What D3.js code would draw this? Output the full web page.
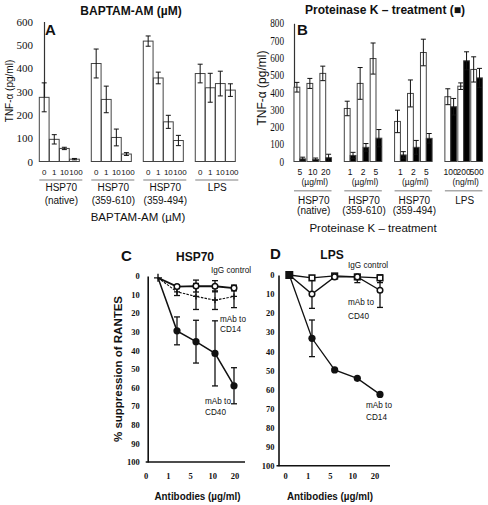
<!DOCTYPE html>
<html><head><meta charset="utf-8">
<script src="https://cdn.jsdelivr.net/npm/d3@7"></script>
<style>body{margin:0;background:#fff} svg{display:block}</style>
</head><body><svg id="c" width="488" height="505"></svg>
<script>
// ---------- DATA ----------
const groups = ["native", "359-610", "359-494", "LPS"];
const groupLine1 = ["HSP70", "HSP70", "HSP70", "LPS"];
const groupLine2 = ["(native)", "(359-610)", "(359-494)", ""];

// Panel A: BAPTAM-AM doses (µM)
const dosesA = ["0", "1", "10", "100"];
const tnfA_native = [275, 95, 56, 10];
const errA_native = [62, 20, 5, 3];
const tnfA_610 = [420, 266, 103, 32];
const errA_610 = [62, 57, 36, 6];
const tnfA_494 = [516, 358, 170, 90];
const errA_494 = [22, 25, 28, 22];
const tnfA_lps = [377, 316, 334, 306];
const errA_lps = [40, 62, 53, 27];
const ticksA = [0, 100, 200, 300, 400, 500, 600];

// Panel B: Proteinase K treatment
const concB_native = ["5", "10", "20"];
const concB_610 = ["1", "2", "5"];
const concB_494 = ["1", "2", "5"];
const concB_lps = ["100", "200", "500"];
const unitsB = ["(µg/ml)", "(µg/ml)", "(µg/ml)", "(ng/ml)"];
const untreatedB_native = [430, 452, 510];
const untreatedErrB_native = [28, 29, 42];
const untreatedB_610 = [307, 452, 596];
const untreatedErrB_610 = [42, 92, 90];
const untreatedB_494 = [232, 394, 631];
const untreatedErrB_494 = [65, 78, 77];
const untreatedB_lps = [375, 436, 533];
const untreatedErrB_lps = [46, 19, 73];
const treatedB_native = [15, 12, 22];
const treatedErrB_native = [10, 8, 20];
const treatedB_610 = [35, 82, 135];
const treatedErrB_610 = [18, 22, 50];
const treatedB_494 = [38, 82, 134];
const treatedErrB_494 = [19, 40, 28];
const treatedB_lps = [317, 583, 484];
const treatedErrB_lps = [48, 52, 55];
const ticksB = [0, 100, 200, 300, 400, 500, 600, 700, 800];

// Panels C & D: antibodies (µg/ml), % suppression of RANTES
const antibodyDoses = ["0", "1", "5", "10", "20"];
const ticksCD = [0, 10, 20, 30, 40, 50, 60, 70, 80, 90, 100];
const igG_C = [1, 5.7, 5.4, 5.5, 6.5];
const igGErr_C = [0, 1, 3.2, 3, 1.5];
const cd14_C = [1, 8.5, 11, 13, 11];
const cd14Err_C = [0, 2, 7, 5, 6];
const cd40_C = [1, 29.5, 35.3, 41.6, 59];
const cd40Err_C = [0, 7.5, 11.5, 17.5, 9.7];
const igG_D = [0, 1.5, 0.5, 1, 1.5];
const igGErr_D = [0, 1, 0.5, 3, 2.5];
const cd40_D = [0, 10, 1, 1, 8];
const cd40Err_D = [0, 7.5, 0, 0, 9];
const cd14_D = [0, 33.2, 49.8, 54.2, 62.6];
const cd14Err_D = [0, 9.6, 0, 0, 0];

// ---------- DRAW ----------
const svg = d3.select("#c");
const sans = "'Liberation Sans', Arial, sans-serif";
const serif = "'Liberation Serif', 'Times New Roman', serif";
svg.append("rect").attr("width", 488).attr("height", 505).attr("fill", "#fff");

function txt(g, x, y, s, o = {}) {
  const t = g.append("text").attr("x", x).attr("y", y).text(s)
    .attr("font-family", o.family || sans).attr("font-size", o.size || 10)
    .attr("font-weight", o.weight || "normal").attr("text-anchor", o.anchor || "start")
    .attr("fill", o.fill || "#111");
  if (o.rotate) t.attr("transform", `rotate(-90,${x},${y})`);
  if (o.len) t.attr("textLength", o.len).attr("lengthAdjust", "spacingAndGlyphs");
  return t;
}
function errBar(g, cx, y, v, e, cap, w) {
  if (!e) return;
  const top = y(v + e), bot = y(Math.max(y.domain()[0], v - e));
  g.append("line").attr("x1", cx).attr("x2", cx).attr("y1", top).attr("y2", bot).attr("stroke", "#111").attr("stroke-width", w || 1);
  [top, bot].forEach(yy => g.append("line").attr("x1", cx - cap / 2).attr("x2", cx + cap / 2).attr("y1", yy).attr("y2", yy).attr("stroke", "#111").attr("stroke-width", w || 1));
}

// ===== Panel A =====
const gA = svg.append("g");
const valsA = [tnfA_native, tnfA_610, tnfA_494, tnfA_lps];
const errsA = [errA_native, errA_610, errA_494, errA_lps];
const yA = d3.scaleLinear().domain([0, 600]).range([161.5, 21.5]);
const xA = d3.scaleBand().domain(groups).range([39.3, 235.3]).paddingInner(0.23);
const xAi = d3.scaleBand().domain(dosesA).range([0, xA.bandwidth()]).paddingInner(0.03);
gA.append("g").attr("transform", "translate(44,0)")
  .call(d3.axisLeft(yA).tickValues(ticksA).tickSize(0).tickPadding(11))
  .call(g => {
    g.select(".domain").attr("stroke", "#333").attr("stroke-width", 1.2);
    g.selectAll("text").attr("font-family", serif).attr("font-size", 11).attr("fill", "#111");
  });
groups.forEach((gr, gi) => {
  dosesA.forEach((d, di) => {
    const v = valsA[gi][di], x0 = xA(gr) + xAi(d);
    gA.append("rect").attr("x", x0).attr("y", yA(v)).attr("width", xAi.bandwidth()).attr("height", yA(0) - yA(v))
      .attr("fill", "#fff").attr("stroke", "#444").attr("stroke-width", 1);
    errBar(gA, x0 + xAi.bandwidth() / 2, yA, v, errsA[gi][di], 5);
    txt(gA, x0 + xAi.bandwidth() / 2 + (di === 3 ? 1.5 : 0), 175, d, { size: 8, anchor: "middle" });
  });
  gA.append("line").attr("x1", xA(gr)).attr("x2", xA(gr) + xA.bandwidth() + 3).attr("y1", 180).attr("y2", 180)
    .attr("stroke", "#aaa").attr("stroke-width", 1.5);
  const c = xA(gr) + xA.bandwidth() / 2 + 2;
  txt(gA, c, 190.5, groupLine1[gi], { size: 10, anchor: "middle" });
  txt(gA, c, 203.5, groupLine2[gi], { size: 10, anchor: "middle" });
});
txt(gA, 45, 35, "A", { size: 15, weight: "bold" });
txt(gA, 131, 15, "BAPTAM-AM (µM)", { size: 12, weight: "bold", anchor: "middle" });
txt(gA, 138, 221, "BAPTAM-AM (µM)", { size: 11.5, anchor: "middle" });
txt(gA, 12.5, 91, "TNF-α (pg/ml)", { size: 10, anchor: "middle", rotate: true });

// ===== Panel B =====
const gB = svg.append("g");
const concB = [concB_native, concB_610, concB_494, concB_lps];
const untB = [untreatedB_native, untreatedB_610, untreatedB_494, untreatedB_lps];
const untEB = [untreatedErrB_native, untreatedErrB_610, untreatedErrB_494, untreatedErrB_lps];
const trtB = [treatedB_native, treatedB_610, treatedB_494, treatedB_lps];
const trtEB = [treatedErrB_native, treatedErrB_610, treatedErrB_494, treatedErrB_lps];
const yB = d3.scaleLinear().domain([0, 800]).range([161.5, 23.3]);
const xB = d3.scaleBand().domain(groups).range([294, 482.4]).paddingInner(0.254);
const xBi = d3.scaleBand().domain([0, 1, 2]).range([0, xB.bandwidth()]).paddingInner(0.1);
const xBt = d3.scaleBand().domain(["untreated", "treated"]).range([0, xBi.bandwidth()]);
gB.append("g").attr("transform", "translate(294,0)")
  .call(d3.axisLeft(yB).tickValues(ticksB).tickSize(0).tickPadding(10))
  .call(g => {
    g.select(".domain").attr("stroke", "#333").attr("stroke-width", 1.2);
    g.selectAll("text").attr("font-family", serif).attr("font-size", 11.5).attr("fill", "#111")
      .attr("textLength", d => String(d).length * 4.6).attr("lengthAdjust", "spacingAndGlyphs");
  });
groups.forEach((gr, gi) => {
  concB[gi].forEach((cname, ci) => {
    const base = xB(gr) + xBi(ci);
    [["untreated", untB, untEB, "#fff"], ["treated", trtB, trtEB, "#000"]].forEach(([k, vals, errs, fill]) => {
      const v = vals[gi][ci], x0 = base + xBt(k);
      gB.append("rect").attr("x", x0).attr("y", yB(v)).attr("width", xBt.bandwidth()).attr("height", yB(0) - yB(v))
        .attr("fill", fill).attr("stroke", "#444").attr("stroke-width", 1);
      errBar(gB, x0 + xBt.bandwidth() / 2, yB, v, errs[gi][ci], 5);
    });
    txt(gB, base + xBi.bandwidth() / 2, 175, cname, { size: 8.5, anchor: "middle" });
  });
  const c = xB(gr) + xB.bandwidth() / 2;
  txt(gB, c + 2, 185, unitsB[gi], { size: 8.5, anchor: "middle" });
  gB.append("line").attr("x1", xB(gr)).attr("x2", xB(gr) + xB.bandwidth()).attr("y1", 190.7).attr("y2", 190.7)
    .attr("stroke", "#aaa").attr("stroke-width", 1.5);
  txt(gB, c + 1, 203.5, groupLine1[gi], { size: 10, anchor: "middle" });
  txt(gB, c + 1, 213.5, groupLine2[gi], { size: 10, anchor: "middle" });
});
txt(gB, 297, 35, "B", { size: 15, weight: "bold" });
txt(gB, 385, 14, "Proteinase K – treatment (■)", { size: 12, weight: "bold", anchor: "middle" });
txt(gB, 373, 231.5, "Proteinase K – treatment", { size: 11.5, anchor: "middle" });
txt(gB, 265.5, 88, "TNF-α (pg/ml)", { size: 12, anchor: "middle", rotate: true });

// ===== Panels C & D =====
function plusPath(cx, cy, s) { return `M${cx - s},${cy}H${cx + s}M${cx},${cy - s}V${cy + s}`; }

function linePanel(o) {
  const g = svg.append("g");
  const y = d3.scaleLinear().domain([0, 100]).range(o.yRange);
  const xd = d3.scalePoint().domain(antibodyDoses).range(o.xData);
  const xl = d3.scalePoint().domain(antibodyDoses).range(o.xLab);
  g.append("g").attr("transform", `translate(${o.axisX},0)`)
    .call(d3.axisLeft(y).tickValues(ticksCD).tickSize(0).tickPadding(o.pad))
    .call(a => {
      a.select(".domain").attr("stroke", "#111").attr("stroke-width", 1.6);
      a.selectAll("text").attr("font-family", serif).attr("font-weight", "bold").attr("font-size", 8.5).attr("fill", "#111");
    });
  g.append("line").attr("x1", o.axisX - 2).attr("x2", o.xEnd).attr("y1", y(100)).attr("y2", y(100))
    .attr("stroke", "#111").attr("stroke-width", 1.6);
  antibodyDoses.forEach(d => txt(g, xl(d), o.labY, d, { family: serif, weight: "bold", size: 8.5, anchor: "middle" }));
  const line = d3.line().x((d, i) => xd(antibodyDoses[i])).y(d => y(d));
  o.series.forEach(s => {
    g.append("path").attr("d", line(s.vals)).attr("fill", "none").attr("stroke", "#111")
      .attr("stroke-width", s.lw).attr("stroke-dasharray", s.dash || null);
    s.vals.forEach((v, i) => errBar(g, xd(antibodyDoses[i]), y, v, s.errs[i], 6, 1.3));
  });
  o.series.forEach(s => {
    s.vals.forEach((v, i) => {
      if (i === 0) return;
      const cx = xd(antibodyDoses[i]), cy = y(v);
      if (s.marker === "open") g.append("circle").attr("cx", cx).attr("cy", cy).attr("r", 2.8).attr("fill", "#fff").attr("stroke", "#111").attr("stroke-width", 1.5);
      else if (s.marker === "filled") g.append("circle").attr("cx", cx).attr("cy", cy).attr("r", 3.6).attr("fill", "#111");
      else if (s.marker === "plus") g.append("path").attr("d", plusPath(cx, cy, 3)).attr("stroke", "#111").attr("stroke-width", 1.3);
      else if (s.marker === "square") g.append("rect").attr("x", cx - 2.8).attr("y", cy - 2.8).attr("width", 5.6).attr("height", 5.6).attr("fill", "#fff").attr("stroke", "#111").attr("stroke-width", 1.6);
    });
  });
  const x0 = xd(antibodyDoses[0]), y0 = y(o.series[0].vals[0]);
  if (o.origin === "plus") g.append("path").attr("d", plusPath(x0, y0, 4)).attr("stroke", "#111").attr("stroke-width", 1.4);
  else g.append("rect").attr("x", x0 - 4).attr("y", y0 - 4).attr("width", 8).attr("height", 8).attr("fill", "#111");
  o.labels.forEach(l => txt(g, l[0], l[1], l[2], { size: 8.2 }));
  txt(g, o.letter[0], o.letter[1], o.letter[2], { size: 15, weight: "bold" });
  txt(g, o.title[0], o.title[1], o.title[2], { size: 12, weight: "bold", anchor: "middle" });
  txt(g, o.xTitle, 500, "Antibodies (µg/ml)", { size: 11, weight: "bold", anchor: "middle", len: 86 });
  return g;
}

linePanel({
  yRange: [276, 462], xData: [158, 234], xLab: [146, 235], axisX: 147.7, pad: 8, xEnd: 245, labY: 479,
  origin: "plus",
  series: [
    { vals: igG_C, errs: igGErr_C, marker: "open", lw: 1.8 },
    { vals: cd14_C, errs: cd14Err_C, marker: "plus", lw: 1.1, dash: "2.5,1.2" },
    { vals: cd40_C, errs: cd40Err_C, marker: "filled", lw: 1.5 }
  ],
  labels: [[211, 273, "IgG control"], [220, 322, "mAb to"], [220, 331.5, "CD14"], [205, 404, "mAb to"], [205, 415, "CD40"]],
  letter: [121, 261, "C"], title: [195, 261, "HSP70"], xTitle: 197.5
});
linePanel({
  yRange: [275, 465.7], xData: [289.3, 380], xLab: [285.7, 375], axisX: 278.5, pad: 4, xEnd: 390, labY: 479,
  origin: "square",
  series: [
    { vals: igG_D, errs: igGErr_D, marker: "square", lw: 1.3 },
    { vals: cd40_D, errs: cd40Err_D, marker: "open", lw: 1.3 },
    { vals: cd14_D, errs: cd14Err_D, marker: "filled", lw: 1.3 }
  ],
  labels: [[348, 268, "IgG control"], [348, 305, "mAb to"], [348, 319, "CD40"], [366, 408, "mAb to"], [366, 420, "CD14"]],
  letter: [270, 259, "D"], title: [332, 259, "LPS"], xTitle: 330
});
txt(svg, 121.5, 369, "% suppression of RANTES", { size: 10.5, anchor: "middle", rotate: true, len: 146, weight: "bold" });
</script></body></html>
